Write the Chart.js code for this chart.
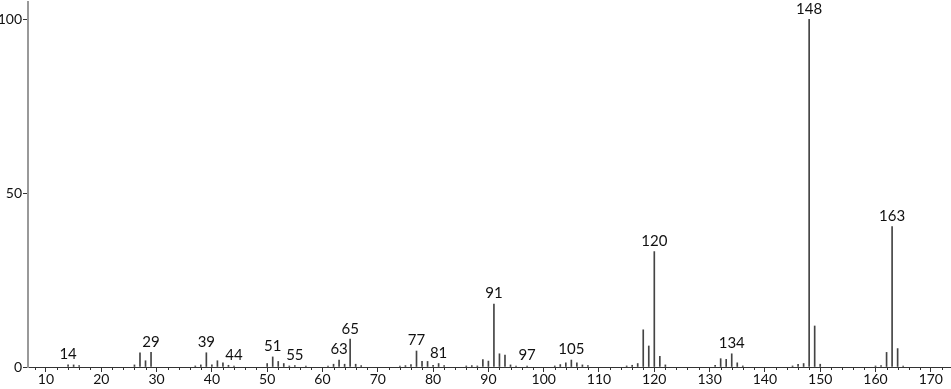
<!DOCTYPE html>
<html>
<head>
<meta charset="utf-8">
<script src="https://cdn.jsdelivr.net/npm/chart.js@4"></script>
<style>
html,body{margin:0;padding:0;background:#fff;}
#wrap{width:951px;height:389px;position:relative;}
</style>
</head>
<body>
<div id="wrap"><canvas id="c" width="951" height="389"></canvas></div>
<script>
const mz = [14,15,16,26,27,28,29,37,38,39,40,41,42,43,44,50,51,52,53,54,55,57,61,62,63,64,65,66,67,74,75,76,77,78,79,80,81,82,86,87,88,89,90,91,92,93,94,95,97,102,103,104,105,106,107,108,115,116,117,118,119,120,121,122,131,132,133,134,135,136,145,146,147,148,149,150,160,161,162,163,164,165];
const intensity = [0.6,0.6,0.4,0.6,4.1,1.8,4.2,0.3,0.6,4.1,0.6,1.8,1.2,0.5,0.3,1.0,2.9,1.6,1.0,0.3,0.4,0.3,0.3,0.8,2.0,0.8,8.0,0.8,0.4,0.3,0.4,0.7,4.6,1.6,1.6,0.5,1.0,0.4,0.3,0.4,0.3,2.1,1.7,18.1,3.8,3.4,0.6,0.3,0.3,0.3,0.7,1.2,2.0,1.2,0.6,0.4,0.3,0.5,1.0,10.7,6.05,33.2,3.1,0.6,0.5,2.4,2.2,3.8,1.2,0.3,0.3,0.8,1.0,100,11.8,0.8,0.3,0.4,4.2,40.4,5.3,0.3];
const labeledPeaks = [14,29,39,44,51,55,63,65,77,81,91,97,105,120,134,148,163];
const xTickValues = [10,20,30,40,50,60,70,80,90,100,110,120,130,140,150,160,170];
const yTickValues = [0,50,100];

const FONT = "Lato, 'Open Sans', sans-serif";

const peakLabels = {
  id: 'peakLabels',
  afterDatasetsDraw(chart) {
    const ctx = chart.ctx;
    const meta = chart.getDatasetMeta(0);
    ctx.save();
    ctx.font = "15px " + FONT;
    ctx.fillStyle = '#111';
    ctx.textAlign = 'center';
    ctx.textBaseline = 'bottom';
    labeledPeaks.forEach(p => {
      const i = mz.indexOf(p);
      if (i < 0) return;
      const el = meta.data[i];
      ctx.fillText(String(p), el.x, el.y - 3);
    });
    ctx.restore();
  }
};

const minorTicks = {
  id: 'minorTicks',
  afterDraw(chart) {
    const xs = chart.scales.x;
    const ctx = chart.ctx;
    const b = chart.chartArea.bottom;
    ctx.save();
    ctx.strokeStyle = '#333';
    ctx.lineWidth = 1;
    ctx.beginPath();
    for (let v = 8; v <= 172; v += 2) {
      if (v % 10 === 0) continue;
      const px = Math.round(xs.getPixelForValue(v)) + 0.5;
      ctx.moveTo(px, b);
      ctx.lineTo(px, b + 3);
    }
    ctx.stroke();
    ctx.restore();
  }
};

new Chart(document.getElementById('c'), {
  type: 'bar',
  data: {
    datasets: [{
      data: mz.map((m, i) => ({x: m, y: intensity[i]})),
      backgroundColor: '#444',
      borderWidth: 0,
      barThickness: 1,
      grouped: false
    }]
  },
  options: {
    responsive: false,
    animation: false,
    events: [],
    layout: {padding: {top: 2, left: 0, right: 0, bottom: 0}},
    plugins: {legend: {display: false}, tooltip: {enabled: false}},
    scales: {
      x: {
        type: 'linear',
        offset: false,
        min: 6.75,
        max: 173.65,
        afterBuildTicks(scale) { scale.ticks = xTickValues.map(v => ({value: v})); },
        afterFit(scale) { scale.height = 22; scale.paddingLeft = 0; scale.paddingRight = 0; },
        border: {display: true, color: '#333', width: 1},
        grid: {drawOnChartArea: false, drawTicks: true, tickLength: 5, color: '#333', offset: false},
        ticks: {
          autoSkip: false, maxRotation: 0, padding: -1,
          color: '#111', font: {family: FONT, size: 14}
        }
      },
      y: {
        type: 'linear',
        min: 0,
        max: 105,
        afterBuildTicks(scale) { scale.ticks = yTickValues.map(v => ({value: v})); },
        afterFit(scale) { scale.width = 28; scale.paddingTop = 0; scale.paddingBottom = 0; },
        border: {display: true, color: '#999', width: 2},
        grid: {drawOnChartArea: false, drawTicks: true, tickLength: 5, color: '#333'},
        ticks: {
          padding: 1,
          color: '#111', font: {family: FONT, size: 14}
        }
      }
    }
  },
  plugins: [peakLabels, minorTicks]
});
</script>
</body>
</html>
